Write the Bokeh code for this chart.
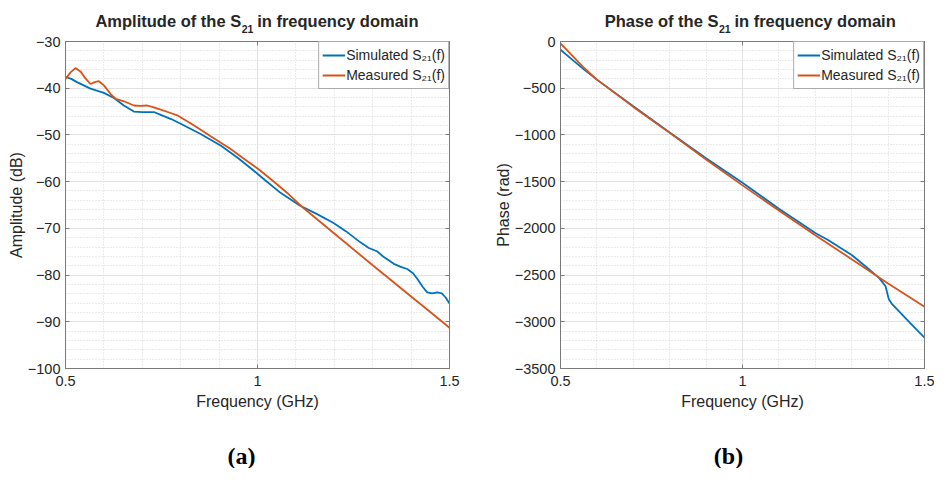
import numpy as np
from bokeh.plotting import figure
from bokeh.models import (FixedTicker, LinearAxis, Legend, LegendItem,
                          CustomJSTickFormatter, Range1d)
from bokeh.layouts import row, column
from bokeh.core.properties import value
from bokeh.embed import file_html
from bokeh.resources import INLINE

# ---------------- data ----------------
amp_sim_f = [0.50, 0.515, 0.53, 0.565, 0.60, 0.626, 0.652, 0.678, 0.70, 0.73, 0.748, 0.775,
             0.80, 0.852, 0.905, 0.95, 1.00, 1.02, 1.06, 1.11, 1.154, 1.197, 1.23, 1.268,
             1.29, 1.311, 1.33, 1.355, 1.375, 1.39, 1.405, 1.416, 1.43, 1.442, 1.455,
             1.468, 1.48, 1.49, 1.50]
amp_sim_db = [-37.6, -38.0, -38.7, -40.1, -41.0, -42.1, -43.7, -45.0, -45.1, -45.1, -45.7, -46.6,
              -47.6, -49.8, -52.3, -55.0, -58.3, -59.7, -62.4, -65.1, -66.9, -68.8, -70.6, -73.0,
              -74.2, -74.9, -76.2, -77.6, -78.3, -78.7, -79.6, -80.8, -82.5, -83.7, -83.9,
              -83.7, -83.9, -84.8, -86.1]

amp_meas_f = [0.50, 0.513, 0.526, 0.539, 0.552, 0.565, 0.576, 0.587, 0.60, 0.617, 0.631, 0.652,
              0.678, 0.695, 0.713, 0.73, 0.748, 0.77, 0.791, 0.835, 0.878, 0.93, 0.97, 1.007,
              1.038, 1.08, 1.119, 1.20, 1.30, 1.40, 1.45, 1.50]
amp_meas_db = [-38.0, -36.6, -35.7, -36.4, -37.9, -39.1, -38.7, -38.5, -39.4, -41.2, -42.3, -42.8,
               -43.7, -43.8, -43.7, -44.1, -44.6, -45.2, -45.8, -48.0, -50.3, -53.0, -55.4, -57.6,
               -59.7, -62.6, -65.6, -71.1, -77.9, -84.6, -87.9, -91.3]

ph_sim_f = [0.50, 0.537, 0.565, 0.60, 0.70, 0.80, 0.90, 1.00, 1.10, 1.20, 1.235, 1.30, 1.34,
            1.375, 1.393, 1.402, 1.411, 1.455, 1.50]
ph_sim_rad = [-88, -210, -301, -408, -692, -975, -1250, -1512, -1790, -2050, -2124, -2285, -2413,
              -2530, -2619, -2760, -2812, -2989, -3170]

ph_meas_f = [0.50, 0.537, 0.565, 0.60, 0.70, 0.80, 0.90, 1.00, 1.10, 1.20, 1.30, 1.40, 1.50]
ph_meas_rad = [-20, -170, -284, -408, -700, -978, -1262, -1540, -1810, -2075, -2330, -2590, -2840]

x_major = [0.5, 1.0, 1.5]
x_minor = [0.6, 0.7, 0.8, 0.9, 1.1, 1.2, 1.3, 1.4]
amp_major = list(range(-100, -29, 10))
amp_minor = [v for v in range(-100, -29, 2) if v % 10 != 0]
ph_major = list(range(-3500, 1, 500))
ph_minor = [v for v in range(-3500, 1, 100) if v % 500 != 0]

legend_labels = ["Simulated S\u2082\u2081(f)", "Measured S\u2082\u2081(f)"]
titles = [("Amplitude of the S", "21", "in frequency domain"),
          ("Phase of the S", "21", "in frequency domain")]
ylabels = ["Amplitude (dB)", "Phase (rad)"]
captions = ["(a)", "(b)"]

# ---------------- styles ----------------
BLUE = "#0072BD"
ORANGE = "#D95319"
FONT = "Liberation Sans"
TXT = "#262626"
FRAME = "#7a7a7a"

minus_fmt = CustomJSTickFormatter(code="""
    if (tick < 0) { return "\u2212" + String(Math.abs(tick)); }
    return String(tick);
""")
blank_fmt = CustomJSTickFormatter(code="return '';")

TH, PH, CH = 34, 406, 28   # title strip, plot, caption strip heights (sum 468)


def text_fig(width, height, bl, br):
    fw = width - bl - br
    f = figure(width=width, height=height, output_backend="svg", toolbar_location=None,
               title=None, x_range=Range1d(0, fw), y_range=Range1d(0, height),
               x_axis_location=None, y_axis_location=None,
               min_border_left=bl, min_border_right=br, min_border_top=0,
               min_border_bottom=0, outline_line_color=None,
               background_fill_color="white", border_fill_color="white")
    f.grid.visible = False
    return f


def make_panel(width, borders, yr, ymaj, ymin, ylabel, sim, meas,
               title, center, caption, cap_x):
    bl, br, bt, bb = borders
    p = figure(width=width, height=PH, output_backend="svg", toolbar_location=None,
               x_range=Range1d(0.5, 1.5), y_range=Range1d(*yr),
               min_border_left=bl, min_border_right=br, min_border_top=bt,
               min_border_bottom=bb, background_fill_color="white",
               border_fill_color="white", outline_line_color=FRAME)
    xt = FixedTicker(ticks=x_major, minor_ticks=x_minor)
    yt = FixedTicker(ticks=ymaj, minor_ticks=ymin)
    p.xaxis.ticker = xt
    p.yaxis.ticker = yt
    p.xaxis.formatter = minus_fmt
    p.yaxis.formatter = minus_fmt
    for ax in (p.xaxis[0], p.yaxis[0]):
        ax.axis_line_color = FRAME
        ax.major_tick_line_color = FRAME
        ax.major_tick_in = 4
        ax.major_tick_out = 0
        ax.minor_tick_in = 0
        ax.minor_tick_out = 0
        ax.major_label_text_font = FONT
        ax.major_label_text_font_size = "14.5px"
        ax.major_label_text_color = TXT
        ax.axis_label_text_font = FONT
        ax.axis_label_text_font_size = "16px"
        ax.axis_label_text_font_style = "normal"
        ax.axis_label_text_color = TXT
    p.xaxis.axis_label = "Frequency (GHz)"
    p.xaxis.major_label_standoff = 7
    p.xaxis.axis_label_standoff = 4
    p.yaxis.axis_label = ylabel
    p.yaxis.major_label_standoff = 5
    p.yaxis.axis_label_standoff = 0

    for side, tk in (("above", xt), ("right", yt)):
        ax = LinearAxis(ticker=tk, formatter=blank_fmt, axis_line_color=FRAME,
                        major_tick_line_color=FRAME, major_tick_in=4, major_tick_out=0,
                        minor_tick_in=0, minor_tick_out=0, major_label_standoff=0)
        p.add_layout(ax, side)

    p.xgrid.ticker = xt
    p.ygrid.ticker = yt
    for g in (p.xgrid[0], p.ygrid[0]):
        g.grid_line_color = "#e1e1e1"
        g.grid_line_width = 1
        g.minor_grid_line_color = "#d6d6d6"
        g.minor_grid_line_dash = "1 2"
        g.minor_grid_line_width = 1

    r1 = p.line(sim[0], sim[1], line_color=BLUE, line_width=1.8)
    r2 = p.line(meas[0], meas[1], line_color=ORANGE, line_width=1.8)

    leg = Legend(items=[LegendItem(label=legend_labels[0], renderers=[r1]),
                        LegendItem(label=legend_labels[1], renderers=[r2])],
                 location="top_right", margin=0, padding=3, spacing=0,
                 glyph_width=23, glyph_height=20, label_height=20, label_standoff=1,
                 label_text_font=FONT, label_text_font_size="14px", label_text_color=TXT,
                 border_line_color="#555555", border_line_width=1,
                 background_fill_color="white", background_fill_alpha=1.0)
    p.add_layout(leg)

    # title strip (frame-relative x, strip-bottom-relative y), "21" as a true subscript
    t = text_fig(width, TH, bl, br)
    main, sub, tail = title
    main_w = {"Amplitude of the S": 145.8, "Phase of the S": 113.7}[main]
    gap = 16
    total = main_w + gap + 161.5
    split = center - total / 2 + main_w
    t.text(x=[split], y=[13.2], text=[main], text_align="right", text_baseline="middle",
           text_font=value(FONT), text_font_size=value("16.5px"), text_font_style="bold",
           text_color=TXT)
    t.text(x=[split + 0.5], y=[5.8], text=[sub], text_align="left", text_baseline="middle",
           text_font=value(FONT), text_font_size=value("10.5px"), text_font_style="bold",
           text_color=TXT)
    t.text(x=[split + gap], y=[13.2], text=[tail], text_align="left", text_baseline="middle",
           text_font=value(FONT), text_font_size=value("16.5px"), text_font_style="bold",
           text_color=TXT)

    # caption strip
    c = text_fig(width, CH, bl, br)
    c.text(x=[cap_x], y=[12.5], text=[caption], text_align="center", text_baseline="middle",
           text_font=value("Liberation Serif"), text_font_size=value("24px"),
           text_font_style="bold", text_color="#000000")
    return column(t, p, c, spacing=0)


W1, W2 = 480, 454
# frames (page px): left 65..449, right 560..924 ; top 41, bottom 368
col1 = make_panel(W1, (65, 31, 7, 72), (-100, -30), amp_major, amp_minor,
                  ylabels[0], (amp_sim_f, amp_sim_db), (amp_meas_f, amp_meas_db),
                  titles[0], 256.5 - 65, captions[0], 241 - 65)
col2 = make_panel(W2, (80, 10, 7, 72), (-3500, 0), ph_major, ph_minor,
                  ylabels[1], (ph_sim_f, ph_sim_rad), (ph_meas_f, ph_meas_rad),
                  titles[1], 749.8 - 560, captions[1], 728 - 560)

layout = row(col1, col2, spacing=0)
open("out.html", "w").write(file_html(layout, INLINE))
